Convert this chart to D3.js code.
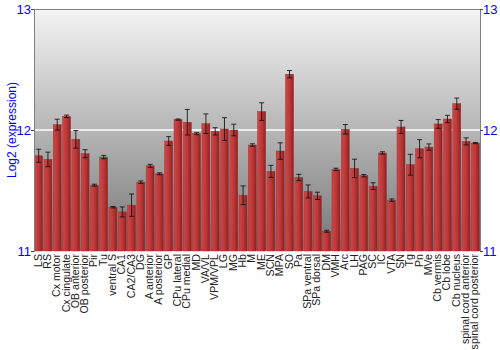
<!DOCTYPE html>
<html><head><meta charset="utf-8">
<script src="https://cdn.jsdelivr.net/npm/d3@7"></script>
<style>body{margin:0;background:#fff}svg{display:block}</style>
</head><body>
<svg id="c" width="500" height="350"></svg>
<script>
const categories = ["LS","RS","Cx motor","Cx cingulate","OB anterior","OB posterior","Pir","Tu","ventral S","CA1","CA2/CA3","DG","A anterior","A posterior","GP","CPu lateral","CPu medial","MD","VA/VL","VPM/VPL","LG","MG","Hb","M","ME","SCN","MPA","SO","Pa","SPa ventral","SPa dorsal","DM","VMH","Arc","LH","PAG","SC","IC","VTA","SN","Tg","Pn","MVe","Cb vermis","Cb lobe","Cb nucleus","spinal cord anterior","spinal cord posterior"];
const values = [11.787,11.757,12.044,12.113,11.923,11.804,11.544,11.776,11.362,11.323,11.379,11.569,11.704,11.638,11.909,12.086,12.064,11.970,12.052,11.989,12.008,12.000,11.461,11.876,12.152,11.658,11.826,12.461,11.608,11.492,11.456,11.163,11.674,12.006,11.683,11.622,11.536,11.810,11.420,12.025,11.713,11.845,11.859,12.050,12.091,12.218,11.906,11.892];
const errors = [0.054,0.060,0.045,0.010,0.073,0.033,0.008,0.014,0.006,0.041,0.092,0.010,0.012,0.008,0.036,0.005,0.106,0.008,0.081,0.030,0.094,0.048,0.077,0.010,0.073,0.050,0.068,0.030,0.026,0.054,0.030,0.008,0.010,0.039,0.076,0.010,0.028,0.010,0.010,0.054,0.086,0.075,0.026,0.036,0.030,0.046,0.029,0.005];
const yTicks = [11,12,13];
const yLabel = "Log2 (expression)";

const svg = d3.select("#c");
const L = 34, R = 480, T = 9, B = 251;
const x = d3.scaleBand().domain(categories).range([L, R]).paddingInner(0.14).paddingOuter(0.07);
const y = d3.scaleLinear().domain([11, 13]).range([B, T]);

const defs = svg.append("defs");
const bg = defs.append("linearGradient").attr("id","bg").attr("x1",0).attr("y1",0).attr("x2",0).attr("y2",1);
bg.append("stop").attr("offset","0%").attr("stop-color","#f4f4f4");
bg.append("stop").attr("offset","100%").attr("stop-color","#777777");
const bar = defs.append("linearGradient").attr("id","bar").attr("x1",0).attr("y1",0).attr("x2",1).attr("y2",0);
bar.append("stop").attr("offset","0%").attr("stop-color","#cc4848");
bar.append("stop").attr("offset","55%").attr("stop-color","#bb3636");
bar.append("stop").attr("offset","100%").attr("stop-color","#8e2020");

svg.append("rect").attr("x",L).attr("y",T).attr("width",R-L).attr("height",B-T).attr("fill","url(#bg)");
svg.append("line").attr("x1",L).attr("x2",R).attr("y1",y(12)).attr("y2",y(12)).attr("stroke","#ffffff").attr("stroke-width",1.5);

svg.append("g").selectAll("rect").data(categories).join("rect")
  .attr("x", d => x(d)).attr("width", x.bandwidth())
  .attr("y", (d,i) => y(values[i])).attr("height", (d,i) => B - y(values[i]))
  .attr("fill","url(#bar)").attr("stroke","#a03030").attr("stroke-width",0.5);

const eg = svg.append("g").attr("stroke","#111").attr("stroke-opacity",0.85).attr("stroke-width",1);
categories.forEach((d,i) => {
  const cx = x(d) + x.bandwidth()/2;
  const y1 = y(values[i]+errors[i]), y2 = y(values[i]-errors[i]);
  eg.append("line").attr("x1",cx).attr("x2",cx).attr("y1",y1).attr("y2",y2);
  eg.append("line").attr("x1",cx-2.5).attr("x2",cx+2.5).attr("y1",y1).attr("y2",y1);
  eg.append("line").attr("x1",cx-2.5).attr("x2",cx+2.5).attr("y1",y2).attr("y2",y2);
});

svg.append("line").attr("x1",L).attr("x2",R).attr("y1",T+0.5).attr("y2",T+0.5).attr("stroke","#808080");

const la = svg.append("g").attr("transform",`translate(${L},0)`).call(d3.axisLeft(y).tickValues(yTicks).tickFormat(d3.format("d")).tickSize(3));
const ra = svg.append("g").attr("transform",`translate(${R},0)`).call(d3.axisRight(y).tickValues(yTicks).tickFormat(d3.format("d")).tickSize(3));
[la, ra].forEach(a => {
  a.select(".domain").attr("stroke","#808080");
  a.selectAll(".tick line").attr("stroke","#444");
  a.selectAll("text").attr("fill","#0000ff").style("font-family","'Liberation Sans', Arial, sans-serif").style("font-size","13px");
});
la.selectAll("text").attr("x",-3);
ra.selectAll("text").attr("x",3);

svg.append("text").attr("transform",`translate(16,${(T+B)/2}) rotate(-90)`).attr("text-anchor","middle")
  .attr("fill","#0000ff").style("font-family","'Liberation Sans', Arial, sans-serif").style("font-size","12px").text(yLabel);

svg.append("g").selectAll("text").data(categories).join("text")
  .attr("transform", d => `translate(${x(d)+x.bandwidth()/2+3},${B+3}) rotate(-90)`)
  .attr("text-anchor","end").attr("fill","#222")
  .style("font-family","'Liberation Sans', Arial, sans-serif").style("font-size","10.6px").text(d => d);
</script>
</body></html>
